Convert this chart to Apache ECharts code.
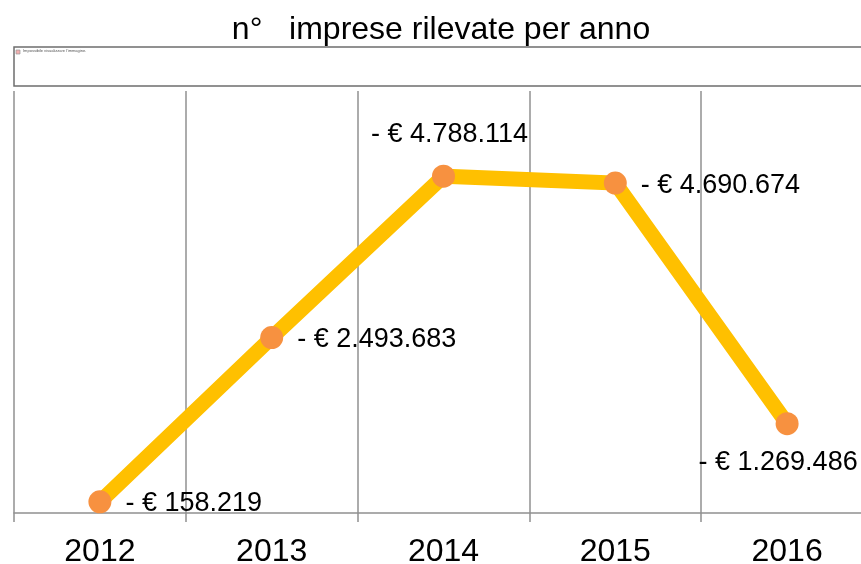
<!DOCTYPE html>
<html><head><meta charset="utf-8">
<style>html,body{margin:0;padding:0;background:#fff}#c{width:861px;height:564px}</style>
<script src="https://cdn.jsdelivr.net/npm/echarts@6/dist/echarts.min.js"></script>
</head><body><div id="c"></div>
<script>
const years = ['2012','2013','2014','2015','2016'];
const amounts = [158219,2493683,4788114,4690674,1269486];
const labelPositions = ['right','right','top','right','bottom'];
const labelOffsets = [[0,2],[0,2],[6,-3],[0,2],[-9,0]];
const titleText = 'n°   imprese rilevate per anno';
const brokenImageText = "Impossibile visualizzare l'immagine.";

const fmt = v => '- € ' + String(v).replace(/\B(?=(\d{3})+$)/g,'.');
const FONT = '"Liberation Sans", Arial, sans-serif';
const chart = echarts.init(document.getElementById('c'), null, {renderer:'canvas'});
chart.setOption({
  animation:false,
  backgroundColor:'#fff',
  title:{text:titleText,left:436,top:9,textAlign:'center',
    textStyle:{fontFamily:FONT,fontSize:32,fontWeight:'normal',color:'#000'}},
  grid:{left:14,top:91,width:859,height:422,containLabel:false,outerBoundsMode:'none'},
  xAxis:{type:'category',data:years,boundaryGap:true,
    axisLine:{show:true,lineStyle:{color:'#909090',width:1.5}},
    axisTick:{show:true,length:9,lineStyle:{color:'#909090',width:1.5}},
    splitLine:{show:true,lineStyle:{color:'#909090',width:1.5}},
    axisLabel:{fontFamily:FONT,fontSize:32,color:'#000',margin:23}},
  yAxis:{type:'value',min:0,max:6000000,show:true,
    axisLine:{show:false},axisTick:{show:false},axisLabel:{show:false},splitLine:{show:false}},
  series:[{type:'line',
    data:amounts.map((v,i)=>({value:v,label:{position:labelPositions[i],offset:labelOffsets[i]}})),
    symbol:'circle',symbolSize:23,showSymbol:true,
    lineStyle:{color:'#FFC000',width:15,cap:'butt',join:'miter'},
    itemStyle:{color:'#F79140'},
    label:{show:true,formatter:p=>fmt(p.value),fontFamily:FONT,fontSize:27,color:'#000',distance:14}}],
  graphic:[
    {type:'rect',shape:{x:14,y:47,width:860,height:39},style:{fill:'#fff',stroke:'#6e6e6e',lineWidth:1.5},z:10},
    {type:'rect',shape:{x:16,y:50,width:4,height:4},style:{fill:'#f4b0b0',stroke:'#999',lineWidth:0.7},z:11},
    {type:'text',x:23,y:49,style:{text:brokenImageText,font:'4px "Liberation Sans"',fill:'#555'},z:11}
  ]
});
</script></body></html>
